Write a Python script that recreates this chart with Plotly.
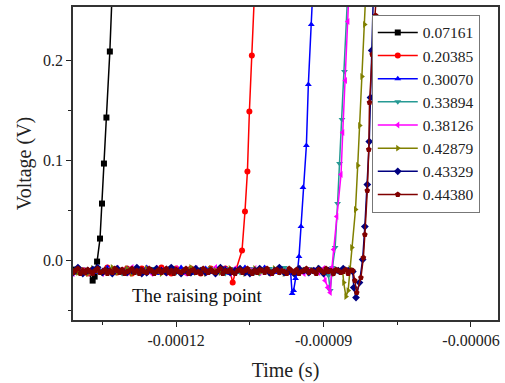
import plotly.graph_objects as go

# ---------------- data (time in microseconds, voltage in mV) ----------------
SERIES_NAMES = ["0.07161", "0.20385", "0.30070", "0.33894",
                "0.38126", "0.42879", "0.43329", "0.44380"]

# baseline sampling grids (microseconds)
BASE_T = [-142, -141, -140, -139, -138, -137, -136, -135, -134, -133,
          -132, -131, -130, -129, -128, -127, -126, -125, -124, -123,
          -122, -121, -120, -119, -118, -117, -116, -115, -114, -113,
          -112, -111, -110, -109, -108, -107, -106, -105, -104, -103,
          -102, -101, -100, -99, -98, -97, -96, -95, -94, -93,
          -92, -91, -90, -89, -88, -87, -86, -85]
BASE_T_FINE = [-142.0, -141.5, -141.0, -140.5, -140.0, -139.5, -139.0, -138.5, -138.0, -137.5,
               -137.0, -136.5, -136.0, -135.5, -135.0, -134.5, -134.0, -133.5, -133.0, -132.5,
               -132.0, -131.5, -131.0, -130.5, -130.0, -129.5, -129.0, -128.5, -128.0, -127.5,
               -127.0, -126.5, -126.0, -125.5, -125.0, -124.5, -124.0, -123.5, -123.0, -122.5,
               -122.0, -121.5, -121.0, -120.5, -120.0, -119.5, -119.0, -118.5, -118.0, -117.5,
               -117.0, -116.5, -116.0, -115.5, -115.0, -114.5, -114.0, -113.5, -113.0, -112.5,
               -112.0, -111.5, -111.0, -110.5, -110.0, -109.5, -109.0, -108.5, -108.0, -107.5,
               -107.0, -106.5, -106.0, -105.5, -105.0, -104.5, -104.0, -103.5, -103.0, -102.5,
               -102.0, -101.5, -101.0, -100.5, -100.0, -99.5, -99.0, -98.5, -98.0, -97.5,
               -97.0, -96.5, -96.0, -95.5, -95.0, -94.5, -94.0, -93.5, -93.0, -92.5,
               -92.0, -91.5, -91.0, -90.5, -90.0, -89.5, -89.0, -88.5, -88.0, -87.5,
               -87.0, -86.5, -86.0, -85.5, -85.0, -84.5]

# baseline voltages (mV), one list per series
base_black = [-10, -9, -11, -10, -11]
base_red = [-10, -12, -8, -10, -13, -9, -10, -12, -7, -10,
            -12, -10, -8, -13, -10, -8, -12, -10, -11, -7,
            -12, -13, -8, -10, -12, -8, -10, -13, -10, -8,
            -12, -10, -8, -11]
base_blue = [-8, -12, -10, -13, -10, -8, -12, -10, -7, -12,
             -10, -13, -8, -10, -12, -10, -7, -12, -13, -10,
             -8, -10, -12, -7, -10, -13, -10, -12, -8, -10,
             -12, -10, -8, -13, -10, -12, -7, -10, -12, -10,
             -7, -10, -12, -8, -10, -13]
base_teal = [-12, -10, -8, -13, -10, -12, -7, -10, -12, -8,
             -10, -13, -10, -8, -12, -10, -13, -8, -10, -12,
             -10, -7, -12, -10, -8, -13, -10, -12, -10, -8,
             -12, -10, -13, -8, -10, -12, -10, -8, -12, -13,
             -10, -8, -10, -12, -7, -10, -13, -10, -12, -8,
             -10, -12, -10]
base_magenta = [-10, -13, -8, -10, -12, -10, -8, -13, -10, -12,
                -8, -10, -12, -7, -10, -12, -10, -13, -8, -10,
                -12, -10, -8, -12, -13, -10, -8, -10, -12, -10,
                -7, -12, -10, -13, -8, -10, -12, -10, -8, -12,
                -10, -13, -10, -8, -12, -10, -12, -8, -13, -10,
                -10, -12, -8]
base_olive = [-8, -10, -12, -10, -13, -8, -10, -12, -10, -7,
              -12, -10, -8, -13, -10, -12, -8, -10, -12, -13,
              -10, -8, -10, -12, -10, -7, -12, -10, -13, -8,
              -10, -12, -10, -8, -12, -10, -13, -10, -8, -12,
              -10, -12, -8, -10, -13, -10, -12, -8, -10, -12,
              -10, -8, -12, -10, -13, -10]
base_navy = [-10, -12, -7, -13, -10, -9, -7, -12, -10, -13,
             -8, -10, -12, -10, -7, -13, -12, -10, -8, -10,
             -12, -7, -10, -13, -10, -12, -8, -10, -12, -10,
             -13, -7, -10, -12, -10, -8, -12, -13, -10, -8,
             -10, -12, -10, -7, -12, -10, -13, -8, -10, -12,
             -10, -8, -13, -10, -12, -10, -8, -10]
base_maroon = [-11, -9, -12, -10, -8, -13, -10, -12, -9, -11,
               -13, -10, -8, -12, -11, -9, -13, -10, -12, -8,
               -10, -12, -9, -13, -11, -10, -8, -12, -10, -13,
               -9, -11, -12, -8, -10, -13, -11, -9, -12, -10,
               -8, -12, -10, -13, -9, -11, -12, -10, -8, -13,
               -10, -9, -12, -11, -13, -8, -10, -12, -9, -11,
               -12, -10, -8, -13, -10, -11, -9, -12, -13, -10,
               -9, -12, -10, -8, -11, -13, -10, -12, -9, -10,
               -12, -8, -11, -13, -10, -9, -12, -10, -11, -13,
               -8, -10, -12, -9, -13, -11, -10, -8, -12, -10,
               -11, -13, -9, -10, -12, -8, -11, -10, -13, -9,
               -10, -12, -11, -9, -13, -10]

# rising part (time in microseconds, voltage in mV)
rise_t_black = [-137.0, -136.6, -136.1, -135.5, -135.1, -134.7, -134.2, -133.5, -132.9]
rise_v_black = [-20, -16, -1, 22, 57, 97, 143, 209, 285]
rise_t_red = [-108.5, -107.8, -106.6, -106.0, -105.5, -105.1, -104.6, -104.0]
rise_v_red = [-22, -9, 10, 49, 89, 149, 205, 275]
rise_t_blue = [-96.7, -96.4, -96.1, -95.7, -95.3, -95.0, -94.6, -94.2, -93.5, -93.1, -92.5, -92.0]
rise_v_blue = [-12, -33, -30, -18, -10, 4, 34, 73, 115, 176, 236, 290]
rise_t_teal = [-89.4, -89.0, -88.65, -88.2, -87.65, -87.15, -86.75, -86.25, -85.75, -85.2]
rise_v_teal = [-12, -15, -30, -7, 13, 57, 97, 141, 189, 256]
rise_t_magenta = [-89.7, -89.15, -88.65, -88.3, -87.95, -87.3, -86.45, -86.1, -85.55, -85.05, -84.55]
rise_v_magenta = [-20, -27, -32, -7, 11, 44, 86, 128, 180, 239, 300]
rise_t_olive = [-86.1, -85.9, -85.45, -85.0, -84.6, -84.26, -83.5, -83.05, -82.65, -82.2, -81.65, -81.2]
rise_v_olive = [-11, -22, -36, -30, -8, 13, 51, 95, 135, 184, 236, 290]
rise_t_navy = [-84.05, -83.85, -83.4, -82.7, -82.05, -81.6, -81.1, -80.7, -80.45, -80.2, -79.9]
rise_v_navy = [-11, -27, -37, -22, 1, 34, 76, 119, 163, 210, 260]
rise_t_maroon = [-84.05, -83.65, -83.25, -82.4, -81.9, -81.6, -81.1, -80.8, -80.65, -80.1, -79.4, -78.9]
rise_v_maroon = [-10, -20, -32, -17, 3, 26, 70, 111, 158, 206, 245, 290]

# axis ticks
X_TICKS = [-0.00012, -0.00009, -0.00006]
X_TICK_TEXT = ["-0.00012", "-0.00009", "-0.00006"]
X_MINOR = [-0.000135, -0.000105, -0.000075]
Y_TICKS = [0.0, 0.1, 0.2]
Y_TICK_TEXT = ["0.0", "0.1", "0.2"]
Y_MINOR = [-0.05, 0.05, 0.15]

# ---------------- styling ----------------
COLORS = ["#000000", "#FF0000", "#0000FF", "#269A94",
          "#FF00FF", "#808000", "#000080", "#800000"]
SYMBOLS = ["square", "circle", "triangle-up", "triangle-down",
           "triangle-left", "triangle-right", "diamond", "pentagon"]

base_grids = [BASE_T, BASE_T, BASE_T, BASE_T, BASE_T, BASE_T, BASE_T, BASE_T_FINE]
bases = [base_black, base_red, base_blue, base_teal,
         base_magenta, base_olive, base_navy, base_maroon]
rise_ts = [rise_t_black, rise_t_red, rise_t_blue, rise_t_teal,
           rise_t_magenta, rise_t_olive, rise_t_navy, rise_t_maroon]
rise_vs = [rise_v_black, rise_v_red, rise_v_blue, rise_v_teal,
           rise_v_magenta, rise_v_olive, rise_v_navy, rise_v_maroon]

FONT = "Liberation Serif"

fig = go.Figure()
for name, grid, base, rt, rv, col, sym in zip(SERIES_NAMES, base_grids, bases, rise_ts, rise_vs, COLORS, SYMBOLS):
    t_us = grid[:len(base)] + rt
    v_mv = base + rv
    fig.add_trace(go.Scatter(
        x=[t * 1e-6 for t in t_us],
        y=[v / 1000.0 for v in v_mv],
        mode="lines+markers",
        name=name,
        line=dict(color=col, width=1.5),
        marker=dict(symbol=sym, size=6, color=col, line=dict(width=0)),
    ))

fig.add_annotation(
    x=-115.7e-6, y=-0.0347, xref="x", yref="y",
    text="The raising point", showarrow=False,
    font=dict(family=FONT, size=19, color="#111111"),
)

fig.update_layout(
    width=505, height=383,
    margin=dict(l=73, r=5, t=7, b=60),
    paper_bgcolor="white", plot_bgcolor="white",
    font=dict(family=FONT, color="#222222"),
    showlegend=True,
    legend=dict(
        x=0.703, y=0.975, xanchor="left", yanchor="top",
        bgcolor="white", bordercolor="#777777", borderwidth=1,
        font=dict(family=FONT, size=15.5, color="#222222"),
        itemwidth=40, tracegroupgap=0,
    ),
)

fig.update_xaxes(
    range=[-0.000141, -0.0000545],
    tickmode="array", tickvals=X_TICKS, ticktext=X_TICK_TEXT,
    ticks="outside", ticklen=5, tickwidth=1.2, tickcolor="#222222",
    minor=dict(tickmode="array", tickvals=X_MINOR, ticks="outside", ticklen=3, tickwidth=1.2, tickcolor="#222222"),
    showgrid=False, zeroline=False,
    showline=True, linecolor="#333333", linewidth=1.5, mirror=True,
    tickfont=dict(family=FONT, size=16, color="#222222"),
    title=dict(text="Time (s)", font=dict(family=FONT, size=20, color="#222222")),
)
fig.update_yaxes(
    range=[-0.0594, 0.2535],
    tickmode="array", tickvals=Y_TICKS, ticktext=Y_TICK_TEXT,
    ticks="outside", ticklen=5, tickwidth=1.2, tickcolor="#222222",
    minor=dict(tickmode="array", tickvals=Y_MINOR, ticks="outside", ticklen=3, tickwidth=1.2, tickcolor="#222222"),
    showgrid=False, zeroline=False,
    showline=True, linecolor="#333333", linewidth=1.5, mirror=True,
    tickfont=dict(family=FONT, size=16, color="#222222"),
    title=dict(text="Voltage (V)", font=dict(family=FONT, size=20, color="#222222"), standoff=6),
)

fig.write_html("out.html")
